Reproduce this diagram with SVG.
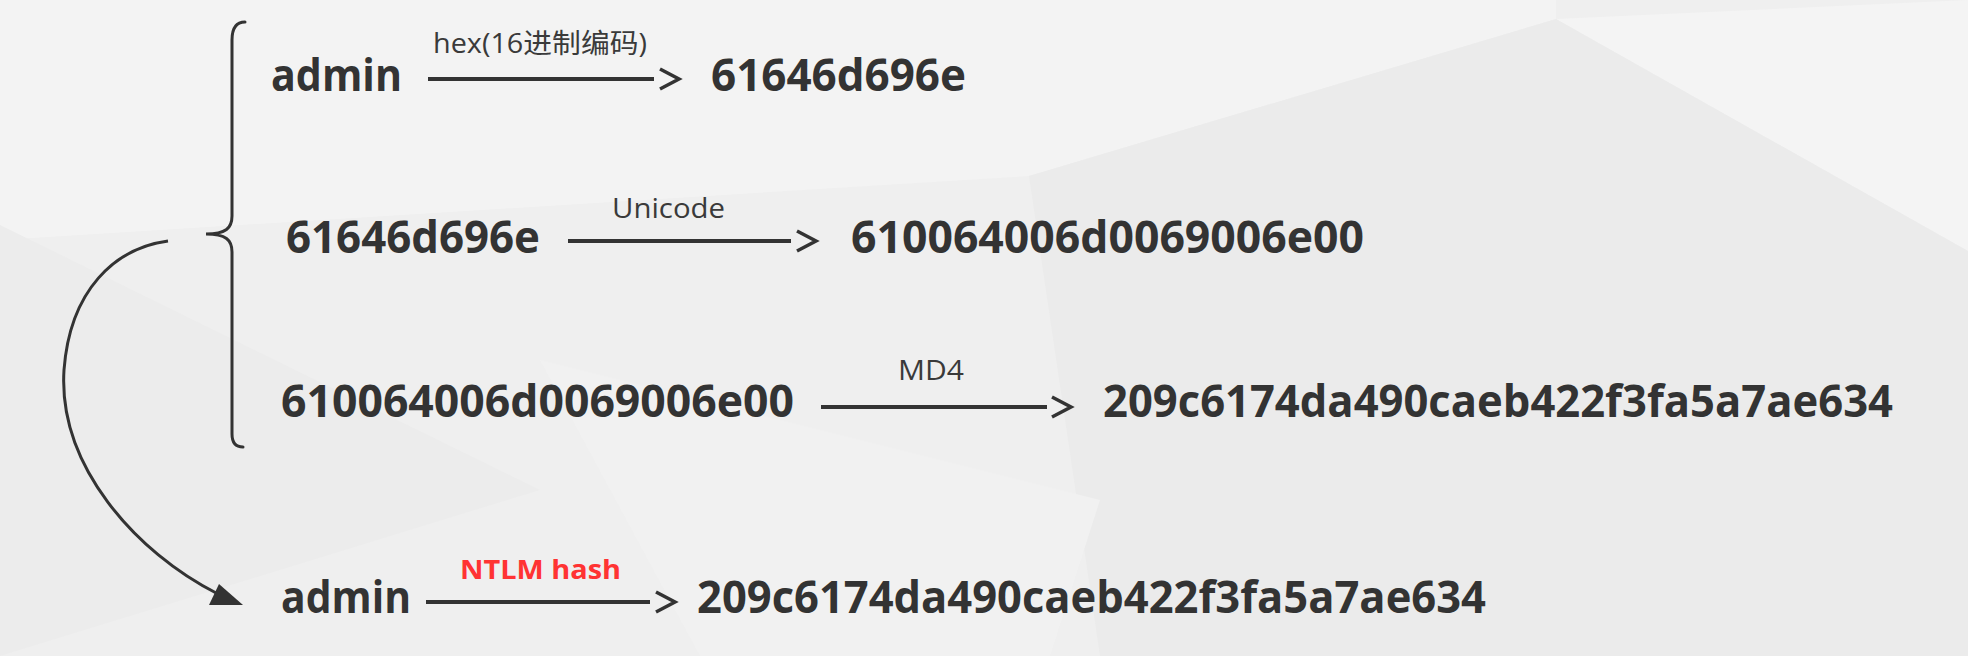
<svg xmlns="http://www.w3.org/2000/svg" width="1968" height="656" viewBox="0 0 1968 656">
<style>
.big{font-family:"Open Sans","Liberation Sans","Noto Sans CJK SC",sans-serif;font-weight:700;font-size:45px;fill:#333333}
.lbl{font-family:"Open Sans","Liberation Sans","Noto Sans CJK SC",sans-serif;font-weight:400;font-size:27px;fill:#3a3a3a}
.red{font-family:"Open Sans","Liberation Sans",sans-serif;font-weight:700;font-size:27px;fill:#ff3333}
.ln{stroke:#333333;stroke-width:4;fill:none}
.chev{stroke:#333333;stroke-width:3.5;fill:none;stroke-linejoin:miter}
.br{stroke:#333333;stroke-width:3;fill:none;stroke-linecap:round}
</style>
<g id="background">
<rect x="0" y="0" width="1968" height="656" fill="#efefef"/>
<polygon points="0,0 1556,0 1556,19 1029,176 0,240" fill="#f3f3f3"/>
<polygon points="1556,19 1968,0 1968,251" fill="#f4f4f4"/>
<polygon points="1029,176 1556,19 1968,251 1968,656 1100,656" fill="#ebebeb"/>
<polygon points="0,225 540,490 0,656" fill="#ececec"/>
<polygon points="540,360 1100,500 1050,656 700,656" fill="#f1f1f1"/>
</g>
<g id="brace">
<path class="br" d="M245,22 C236,22 232,28 232,40 L232,216 C232,228 226,234 206,234 C226,234 232,240 232,252 L232,434 C232,443 236,447 243,447"/>
</g>
<g id="connectors">
<g id="c1"><line class="ln" x1="428" y1="79" x2="654" y2="79"/><polyline class="chev" points="660,69 679,79 660,89"/></g>
<g id="c2"><line class="ln" x1="568" y1="241" x2="791" y2="241"/><polyline class="chev" points="797,231 816,241 797,251"/></g>
<g id="c3"><line class="ln" x1="821" y1="407" x2="1047" y2="407"/><polyline class="chev" points="1052,397 1071,407 1052,417"/></g>
<g id="c4"><line class="ln" x1="426" y1="602" x2="650" y2="602"/><polyline class="chev" points="656,592 675,602 656,612"/></g>
<g id="curve">
<path d="M168,241 C115,248 70,290 64,370 C58,465 135,552 218,594" stroke="#333333" stroke-width="3" fill="none"/>
<polygon points="243,605 209,605 219,584" fill="#333333"/>
</g>
</g>
<g id="labels">
<text class="lbl" x="433" y="53" textLength="214" lengthAdjust="spacingAndGlyphs">hex(16进制编码)</text>
<text class="lbl" x="612" y="218" textLength="113" lengthAdjust="spacingAndGlyphs">Unicode</text>
<text class="lbl" x="898" y="380" textLength="66" lengthAdjust="spacingAndGlyphs">MD4</text>
<text class="red" x="460" y="579" textLength="161" lengthAdjust="spacingAndGlyphs">NTLM hash</text>
</g>
<g id="n1a"><text class="big" x="271" y="91" textLength="131" lengthAdjust="spacingAndGlyphs">admin</text></g>
<g id="n1b"><text class="big" x="711" y="91" textLength="255" lengthAdjust="spacingAndGlyphs">61646d696e</text></g>
<g id="n2a"><text class="big" x="286" y="253" textLength="254" lengthAdjust="spacingAndGlyphs">61646d696e</text></g>
<g id="n2b"><text class="big" x="851" y="253" textLength="513" lengthAdjust="spacingAndGlyphs">610064006d0069006e00</text></g>
<g id="n3a"><text class="big" x="281" y="417" textLength="513" lengthAdjust="spacingAndGlyphs">610064006d0069006e00</text></g>
<g id="n3b"><text class="big" x="1103" y="417" textLength="790" lengthAdjust="spacingAndGlyphs">209c6174da490caeb422f3fa5a7ae634</text></g>
<g id="n4a"><text class="big" x="281" y="613" textLength="130" lengthAdjust="spacingAndGlyphs">admin</text></g>
<g id="n4b"><text class="big" x="697" y="613" textLength="789" lengthAdjust="spacingAndGlyphs">209c6174da490caeb422f3fa5a7ae634</text></g>
</svg>
